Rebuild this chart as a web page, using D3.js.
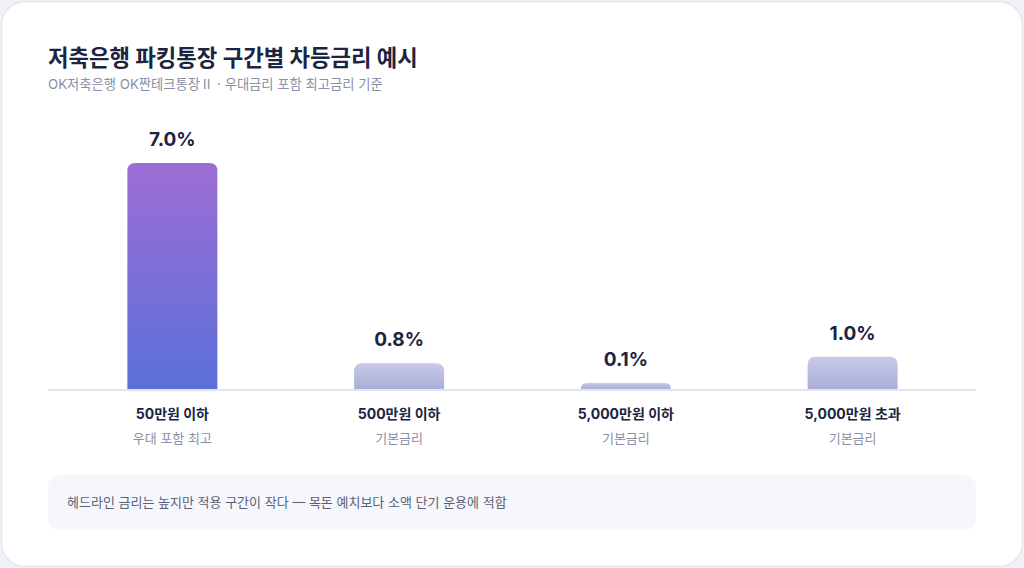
<!DOCTYPE html>
<html>
<head>
<meta charset="utf-8">
<script src="https://cdn.jsdelivr.net/npm/d3@7"></script>
<style>
  html, body { margin: 0; padding: 0; background: #f1f1f8; }
  svg { display: block; font-family: Inter, "Noto Sans CJK KR", "Noto Sans", sans-serif; }
</style>
</head>
<body>
<div id="chart"></div>
<script>
// data
const tiers = ["50만원 이하", "500만원 이하", "5,000만원 이하", "5,000만원 초과"];
const tierNotes = ["우대 포함 최고", "기본금리", "기본금리", "기본금리"];
const rates = [7.0, 0.8, 0.1, 1.0];
const highlighted = [true, false, false, false];

const W = 1024, H = 568;
const baseY = 389;

const svg = d3.select("#chart").append("svg")
  .attr("width", W)
  .attr("height", H);

const defs = svg.append("defs");
const gradTop = defs.append("linearGradient")
  .attr("id", "grad-top").attr("x1", 0).attr("y1", 0).attr("x2", 0).attr("y2", 1);
gradTop.append("stop").attr("offset", "0%").attr("stop-color", "#9d6ed5");
gradTop.append("stop").attr("offset", "100%").attr("stop-color", "#5b6fd9");
const gradBase = defs.append("linearGradient")
  .attr("id", "grad-base").attr("x1", 0).attr("y1", 0).attr("x2", 0).attr("y2", 1);
gradBase.append("stop").attr("offset", "0%").attr("stop-color", "#c8cae8");
gradBase.append("stop").attr("offset", "100%").attr("stop-color", "#a9aed8");

// card
svg.append("rect")
  .attr("x", 1.5).attr("y", 1.5)
  .attr("width", W - 3).attr("height", H - 3)
  .attr("rx", 24)
  .attr("fill", "#ffffff")
  .attr("stroke", "#e5e5f1")
  .attr("stroke-width", 1.5);

// title block
svg.append("text")
  .attr("x", 48).attr("y", 66)
  .attr("font-size", 22.3).attr("font-weight", 700)
  .attr("fill", "#1b2440")
  .text("저축은행 파킹통장 구간별 차등금리 예시");

const sub = svg.append("text")
  .attr("x", 48).attr("y", 89)
  .attr("font-size", 13.3)
  .attr("fill", "#8a8fa8");
sub.append("tspan").text("OK저축은행 OK짠테크통장");
sub.append("tspan").style("font-family", "'Noto Sans CJK KR'").text("Ⅱ");
sub.append("tspan").text(" · 우대금리 포함 최고금리 기준");

// scales
const x = d3.scaleBand()
  .domain(tiers)
  .range([59, 966]);

const y = d3.scaleLinear()
  .domain([0, 7])
  .range([baseY, 163]);

const barW = 90, r = 8, minH = 6;

function barPath(cx, top) {
  const x0 = cx - barW / 2, x1 = cx + barW / 2;
  const h = baseY - top;
  const rr = Math.min(r, h);
  return `M${x0},${baseY} L${x0},${top + rr} Q${x0},${top} ${x0 + rr},${top}` +
    ` L${x1 - rr},${top} Q${x1},${top} ${x1},${top + rr} L${x1},${baseY} Z`;
}

const rows = tiers.map((t, i) => ({
  tier: t, note: tierNotes[i], rate: rates[i], hi: highlighted[i]
}));

const g = svg.append("g");

const bars = g.selectAll(".bar")
  .data(rows)
  .enter()
  .append("g")
  .attr("class", "bar");

bars.append("path")
  .attr("d", d => {
    const cx = x(d.tier) + x.bandwidth() / 2;
    const top = Math.min(y(d.rate), baseY - minH);
    return barPath(cx, top);
  })
  .attr("fill", d => d.hi ? "url(#grad-top)" : "url(#grad-base)");

// value labels
bars.append("text")
  .attr("x", d => x(d.tier) + x.bandwidth() / 2)
  .attr("y", d => Math.min(y(d.rate), baseY - minH) - 17)
  .attr("text-anchor", "middle")
  .attr("font-size", 19).attr("font-weight", 700)
  .attr("fill", "#1b2440")
  .text(d => d.rate.toFixed(1) + "%");

// baseline
svg.append("line")
  .attr("x1", 48).attr("x2", 976)
  .attr("y1", baseY + 1).attr("y2", baseY + 1)
  .attr("stroke", "#e3e3f2")
  .attr("stroke-width", 2);

// category labels
bars.append("text")
  .attr("x", d => x(d.tier) + x.bandwidth() / 2)
  .attr("y", 419)
  .attr("text-anchor", "middle")
  .attr("font-size", 14).attr("font-weight", 700)
  .attr("fill", "#1b2440")
  .text(d => d.tier);

bars.append("text")
  .attr("x", d => x(d.tier) + x.bandwidth() / 2)
  .attr("y", 443)
  .attr("text-anchor", "middle")
  .attr("font-size", 13)
  .attr("fill", "#8a8fa8")
  .text(d => d.note);

// note box
svg.append("rect")
  .attr("x", 48).attr("y", 475)
  .attr("width", 928).attr("height", 55)
  .attr("rx", 12)
  .attr("fill", "#f6f7fc");

svg.append("text")
  .attr("x", 67).attr("y", 503)
  .attr("dominant-baseline", "middle")
  .attr("font-size", 13)
  .attr("fill", "#5a5f75")
  .text("헤드라인 금리는 높지만 적용 구간이 작다 — 목돈 예치보다 소액 단기 운용에 적합");
</script>
</body>
</html>
